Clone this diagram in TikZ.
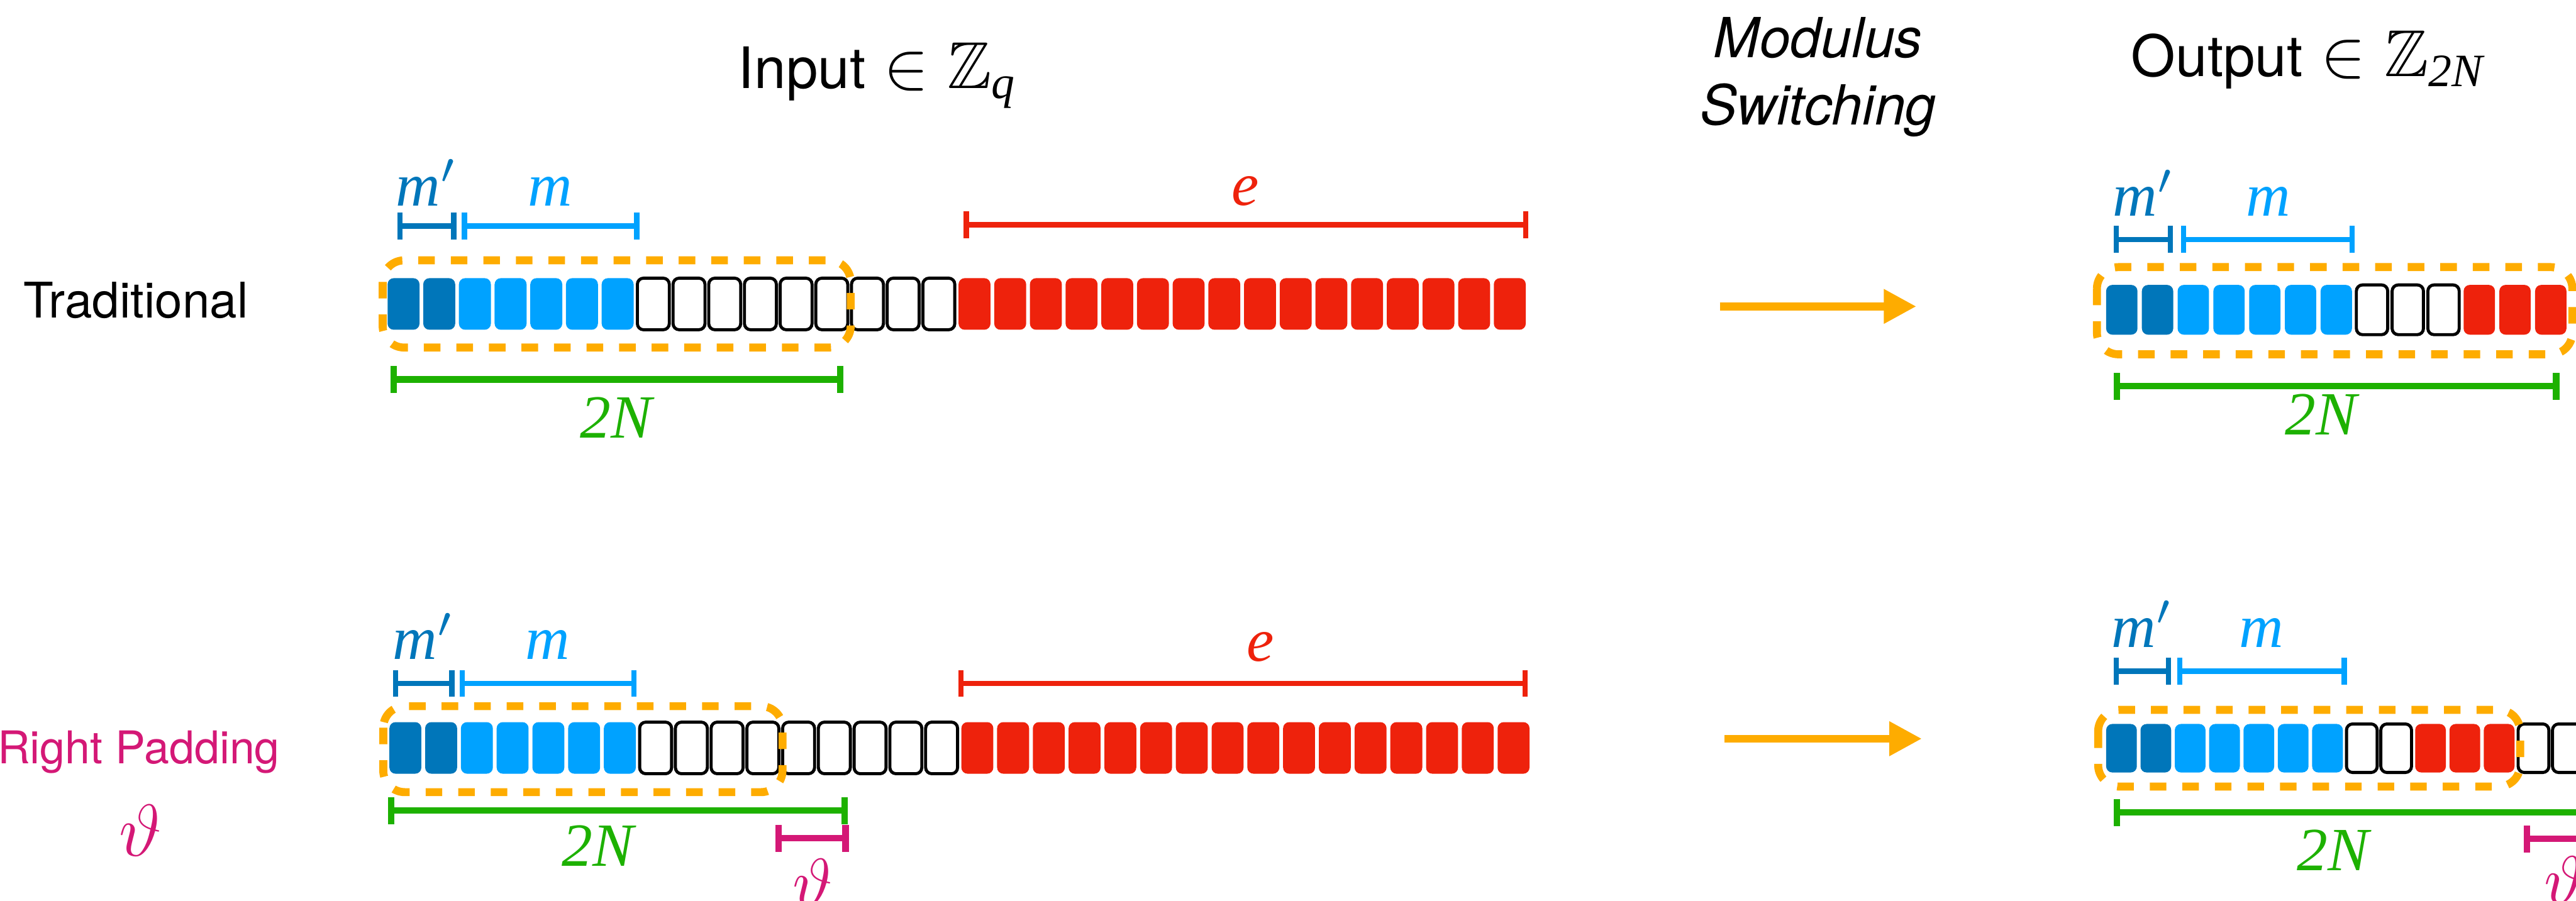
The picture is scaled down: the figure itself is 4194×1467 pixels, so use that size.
\documentclass[tikz,border=0pt]{standalone}
\usepackage{amsmath,amssymb}
\usepackage{fontspec}
\setmainfont{Liberation Serif}
\setsansfont{TeX Gyre Heros}
\usetikzlibrary{arrows.meta}
\definecolor{cDB}{RGB}{0,118,186}
\definecolor{cLB}{RGB}{0,162,255}
\definecolor{cR}{RGB}{238,34,12}
\definecolor{cG}{RGB}{29,177,0}
\definecolor{cO}{RGB}{254,172,0}
\definecolor{cM}{RGB}{212,24,118}
\newcommand{\serifit}[1]{\text{\rmfamily\itshape #1}}
\begin{document}
\begin{tikzpicture}[x=0.1pt,y=-0.1pt,
  cell/.style={rectangle, rounded corners=1pt, inner sep=0pt, minimum width=5.2pt, minimum height=8.4pt},
  dcell/.style={cell, fill=cDB},
  lcell/.style={cell, fill=cLB},
  rcell/.style={cell, fill=cR},
  wcell/.style={cell, draw=black, line width=0.5pt, fill=white},
  lbl/.style={inner sep=0pt, anchor=base, font=\rmfamily\fontsize{10}{12}\selectfont\itshape},
  brk/.style={line width=0.85pt, {Bar[width=4.4pt]}-{Bar[width=4.4pt]}},
  gbrk/.style={brk, draw=cG, line width=1.05pt},
  tbrk/.style={brk, draw=cM, line width=1.05pt},
  dbox/.style={draw=cO, line width=1.3pt, dash pattern=on 2.7pt off 2.6pt, rounded corners=3.5pt},
  arr/.style={draw=cO, line width=1.3pt, -{Triangle[length=5.3pt,width=5.3pt]}},
  title/.style={inner sep=0pt, anchor=base west, font=\sffamily\fontsize{9.3}{11}\selectfont}
]
\useasboundingbox (0,0) rectangle (4194,1467);
\clip (0,0) rectangle (4194,1467);

% ---------- titles ----------
\node[title] (tin) at (1200,144) {Input\kern3pt{\fontsize{10.8}{13}\selectfont$\in$\kern3pt$\mathbb{Z}_{\serifit{q}}$}};
\node[title] (tout) at (3468,124) {Output\kern3pt{\fontsize{10.8}{13}\selectfont$\in$\kern3pt$\mathbb{Z}_{\serifit{2N}}$}};
\node[inner sep=0pt, anchor=north, align=center, font=\sffamily\itshape\fontsize{9}{11}\selectfont] (ms) at (2960,26) {Modulus\\Switching};
\node[inner sep=0pt, anchor=base west, font=\sffamily\fontsize{8}{10}\selectfont] (trad) at (36,518) {Traditional};
\node[inner sep=0pt, anchor=base west, text=cM, font=\sffamily\fontsize{7.35}{9}\selectfont] (rp) at (-6,1244) {Right Padding};
\node[inner sep=0pt, text=cM, font=\fontsize{12}{14}\selectfont] (th0) at (229,1352) {$\vartheta$};

% ---------- input row 1 ----------
\foreach \i in {0,1} \node[dcell] (a\i) at ({657+58.1*\i},495) {};
\foreach \i in {2,...,6} \node[lcell] (a\i) at ({657+58.1*\i},495) {};
\foreach \i in {7,...,15} \node[wcell] (a\i) at ({657+58.1*\i},495) {};
\foreach \i in {16,...,31} \node[rcell] (a\i) at ({657+58.1*\i},495) {};
\draw[dbox] (623,424) rectangle (1385,566);

\coordinate (a-mp1) at (647,368); \coordinate (a-mp2) at (743,368);
\coordinate (a-m1) at (752,368);  \coordinate (a-m2) at (1041,368);
\coordinate (a-e1) at (1569,366); \coordinate (a-e2) at (2488,366);
\coordinate (a-n1) at (636,618);  \coordinate (a-n2) at (1373,618);
\draw[brk, draw=cDB] (a-mp1) -- (a-mp2);
\draw[brk, draw=cLB] (a-m1) -- (a-m2);
\draw[brk, draw=cR] (a-e1) -- (a-e2);
\draw[gbrk] (a-n1) -- (a-n2);
\node[lbl, text=cDB] (a-lmp) at (695,335) {m$'$};
\node[lbl, text=cLB] (a-lm) at (896,335) {m};
\node[lbl, text=cR] (a-le) at (2028,334) {e};
\node[lbl, text=cG] (a-ln) at (1003,713) {2N};

% ---------- input row 2 ----------
\foreach \i in {0,1} \node[dcell] (b\i) at ({660+58.2*\i},1218) {};
\foreach \i in {2,...,6} \node[lcell] (b\i) at ({660+58.2*\i},1218) {};
\foreach \i in {7,...,15} \node[wcell] (b\i) at ({660+58.2*\i},1218) {};
\foreach \i in {16,...,31} \node[rcell] (b\i) at ({660+58.2*\i},1218) {};
\draw[dbox] (624,1150) rectangle (1274,1290);

\coordinate (b-mp1) at (640,1113); \coordinate (b-mp2) at (740,1113);
\coordinate (b-m1) at (748,1113);  \coordinate (b-m2) at (1036,1113);
\coordinate (b-e1) at (1560,1113); \coordinate (b-e2) at (2487,1113);
\coordinate (b-n1) at (632,1320);  \coordinate (b-n2) at (1380,1320);
\coordinate (b-t1) at (1262,1365); \coordinate (b-t2) at (1382,1365);
\draw[brk, draw=cDB] (b-mp1) -- (b-mp2);
\draw[brk, draw=cLB] (b-m1) -- (b-m2);
\draw[brk, draw=cR] (b-e1) -- (b-e2);
\draw[gbrk] (b-n1) -- (b-n2);
\draw[tbrk] (b-t1) -- (b-t2);
\node[lbl, text=cDB] (b-lmp) at (690,1074) {m$'$};
\node[lbl, text=cLB] (b-lm) at (892,1074) {m};
\node[lbl, text=cR] (b-le) at (2052,1077) {e};
\node[lbl, text=cG] (b-ln) at (973,1410) {2N};
\node[inner sep=0pt, anchor=north, text=cM, font=\fontsize{11}{13}\selectfont] (b-lt) at (1323,1397) {$\vartheta$};

% ---------- arrows ----------
\coordinate (s1) at (2800,499); \coordinate (e1) at (3120,499);
\coordinate (s2) at (2808,1203); \coordinate (e2) at (3129,1203);
\draw[arr] (s1) -- (e1);
\draw[arr] (s2) -- (e2);

% ---------- output row 1 ----------
\begin{scope}[cell/.append style={minimum width=5.1pt, minimum height=8.1pt}]
\foreach \i in {0,1} \node[dcell] (c\i) at ({3454.5+58.2*\i},504.5) {};
\foreach \i in {2,...,6} \node[lcell] (c\i) at ({3454.5+58.2*\i},504.5) {};
\foreach \i in {7,8,9} \node[wcell] (c\i) at ({3454.5+58.2*\i},504.5) {};
\foreach \i in {10,11,12} \node[rcell] (c\i) at ({3454.5+58.2*\i},504.5) {};
\end{scope}
\draw[dbox] (3414,435) rectangle (4188,577);
\coordinate (c-mp1) at (3441,390); \coordinate (c-mp2) at (3538,390);
\coordinate (c-m1) at (3551,390);  \coordinate (c-m2) at (3834,390);
\coordinate (c-n1) at (3441,629);  \coordinate (c-n2) at (4167,629);
\draw[brk, draw=cDB] (c-mp1) -- (c-mp2);
\draw[brk, draw=cLB] (c-m1) -- (c-m2);
\draw[gbrk] (c-n1) -- (c-n2);
\node[lbl, text=cDB] (c-lmp) at (3490,352) {m$'$};
\node[lbl, text=cLB] (c-lm) at (3693,352) {m};
\node[lbl, text=cG] (c-ln) at (3779,708) {2N};

% ---------- output row 2 ----------
\begin{scope}[cell/.append style={minimum width=5.0pt, minimum height=7.9pt}]
\foreach \i in {0,1} \node[dcell] (d\i) at ({3454+55.9*\i},1218.5) {};
\foreach \i in {2,...,6} \node[lcell] (d\i) at ({3454+55.9*\i},1218.5) {};
\foreach \i in {7,8} \node[wcell] (d\i) at ({3454+55.9*\i},1218.5) {};
\foreach \i in {9,10,11} \node[rcell] (d\i) at ({3454+55.9*\i},1218.5) {};
\foreach \i in {12,13} \node[wcell] (d\i) at ({3454+55.9*\i},1218.5) {};
\end{scope}
\draw[dbox] (3416,1156) rectangle (4103,1281);
\coordinate (d-mp1) at (3441,1093); \coordinate (d-mp2) at (3535,1093);
\coordinate (d-m1) at (3545,1093);  \coordinate (d-m2) at (3821,1093);
\coordinate (d-n1) at (3441,1323);  \coordinate (d-n2) at (4265,1323);
\coordinate (d-t1) at (4109,1366);  \coordinate (d-t2) at (4235,1366);
\draw[brk, draw=cDB] (d-mp1) -- (d-mp2);
\draw[brk, draw=cLB] (d-m1) -- (d-m2);
\draw[gbrk] (d-n1) -- (d-n2);
\draw[tbrk] (d-t1) -- (d-t2);
\node[lbl, text=cDB] (d-lmp) at (3488,1054) {m$'$};
\node[lbl, text=cLB] (d-lm) at (3682,1054) {m};
\node[lbl, text=cG] (d-ln) at (3798,1418) {2N};
\node[inner sep=0pt, anchor=north, text=cM, font=\fontsize{11}{13}\selectfont] (d-lt) at (4175,1393) {$\vartheta$};
\end{tikzpicture}
\end{document}
